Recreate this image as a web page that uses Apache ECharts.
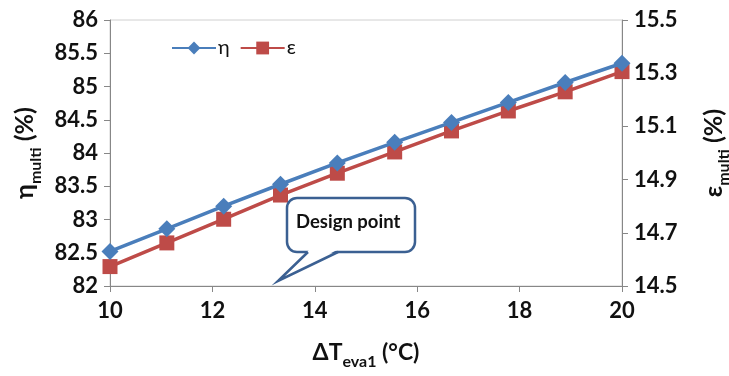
<!DOCTYPE html>
<html><head><meta charset="utf-8">
<script src="https://cdn.jsdelivr.net/npm/echarts@6/dist/echarts.min.js"></script>
<style>html,body{margin:0;padding:0;background:#fff}#c{width:729px;height:376px}</style>
</head><body><div id="c"></div>
<script>
const deltaT = [10, 11.11, 12.22, 13.33, 14.44, 15.56, 16.67, 17.78, 18.89, 20];
const eta = [82.52, 82.86, 83.2, 83.53, 83.85, 84.16, 84.46, 84.76, 85.06, 85.35];
const eps = [14.573, 14.662, 14.751, 14.842, 14.924, 15.004, 15.083, 15.158, 15.23, 15.306];
const seriesNames = ['η', 'ε'];

const FONT = 'Lato';
const chart = echarts.init(document.getElementById('c'));
const axisLine = {show: true, lineStyle: {color: '#878787', width: 1}};
const tick = {show: true, inside: false, length: 6, lineStyle: {color: '#878787'}};
const lab = {color: '#111', fontSize: 22, fontWeight: 'bold', fontFamily: FONT};
const richName = {
  b: {fontSize: 25, fontWeight: 'bold', fontFamily: FONT, color: '#111', verticalAlign: 'bottom', lineHeight: 30},
  s: {fontSize: 16, fontWeight: 'bold', fontFamily: FONT, color: '#111', verticalAlign: 'bottom', lineHeight: 20, padding: [0,0,-6,0]}
};

chart.setOption({
  animation: false,
  backgroundColor: '#fff',
  grid: {left: 110, right: 107, top: 20, bottom: 90, outerBoundsMode: 'none', containLabel: false,
         show: true, borderColor: '#d0d0d0', borderWidth: 1},
  legend: {
    left: 166, top: 33, itemWidth: 44, itemHeight: 16, itemGap: 10,
    textStyle: {fontSize: 20, color: '#111', fontFamily: FONT, padding: [0, 0, 0, -3]},
    data: seriesNames
  },
  xAxis: {
    type: 'value', min: 10, max: 20, interval: 2,
    axisLine: axisLine, axisTick: tick, splitLine: {show: false},
    axisLabel: Object.assign({margin: 14}, lab),
    name: '{b|ΔT}{s|eva1}{b| (°C)}', nameLocation: 'middle', nameGap: 50,
    nameTextStyle: {rich: {
      b: {fontSize: 23, fontWeight: 'bold', fontFamily: FONT, color: '#111', verticalAlign: 'bottom', lineHeight: 28},
      s: {fontSize: 16, fontWeight: 'bold', fontFamily: FONT, color: '#111', verticalAlign: 'bottom', lineHeight: 20, padding: [0,0,-6,0]}
    }}
  },
  yAxis: [{
    type: 'value', min: 82, max: 86, interval: 0.5, position: 'left',
    axisLine: axisLine, axisTick: tick, splitLine: {show: false},
    axisLabel: Object.assign({margin: 12}, lab),
    name: '{b|η}{s|multi}{b| (%)}', nameLocation: 'middle', nameGap: 66, nameRotate: 90,
    nameTextStyle: {rich: richName}
  }, {
    type: 'value', min: 14.5, max: 15.5, interval: 0.2, position: 'right',
    axisLine: axisLine, axisTick: tick, splitLine: {show: false},
    axisLabel: Object.assign({margin: 12, formatter: v => v.toFixed(1)}, lab),
    name: '{b|ε}{s|multi}{b| (%)}', nameLocation: 'middle', nameGap: 74, nameRotate: 90,
    nameTextStyle: {rich: richName}
  }],
  series: [{
    name: seriesNames[0], type: 'line', yAxisIndex: 0,
    data: deltaT.map((x, i) => [x, eta[i]]),
    symbol: 'diamond', symbolSize: 17,
    lineStyle: {color: '#4a7ebb', width: 3.5}, itemStyle: {color: '#4a7ebb'}, z: 3
  }, {
    name: seriesNames[1], type: 'line', yAxisIndex: 1,
    data: deltaT.map((x, i) => [x, eps[i]]),
    symbol: 'rect', symbolSize: 15,
    lineStyle: {color: '#be4b48', width: 3.5}, itemStyle: {color: '#be4b48'}, z: 2
  }],
  graphic: [{
    type: 'rect', z: 10,
    shape: {x: 287, y: 198, width: 128, height: 54, r: 10},
    style: {fill: '#fff', stroke: '#3b6092', lineWidth: 2.5}
  }, {
    type: 'polygon', z: 11,
    shape: {points: [[309, 250], [279, 280], [337, 250]]},
    style: {fill: '#fff'}
  }, {
    type: 'polyline', z: 12,
    shape: {points: [[308, 252], [278, 281], [338, 252]]},
    style: {fill: null, stroke: '#3b6092', lineWidth: 2.5, lineJoin: 'miter'}
  }, {
    type: 'text', z: 13, left: 296, top: 213,
    style: {text: 'Design point', fontSize: 18.5, fontWeight: 'bold', fontFamily: FONT, fill: '#111'}
  }]
});
</script></body></html>
